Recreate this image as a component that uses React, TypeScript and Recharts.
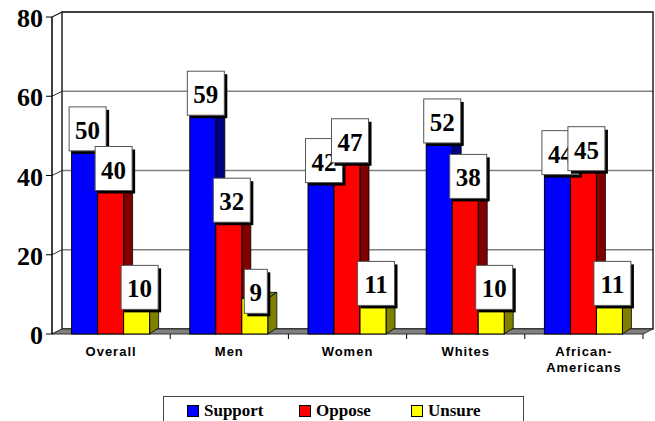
import { BarChart, Bar, XAxis, YAxis, CartesianGrid, ReferenceArea, LabelList } from "recharts";

const categories = ["Overall", "Men", "Women", "Whites", "African-Americans"];
const support = [50, 59, 42, 52, 44];
const oppose = [40, 32, 47, 38, 45];
const unsure = [10, 9, 11, 10, 11];
const yTicks = [0, 20, 40, 60, 80];
const seriesNames = ["Support", "Oppose", "Unsure"];

const data = categories.map((name, i) => ({
  name,
  support: support[i],
  oppose: oppose[i],
  unsure: unsure[i],
}));

const SERIF = "'Liberation Serif', 'Times New Roman', serif";
const SANS = "'Liberation Sans', Arial, sans-serif";
const DX = 10;
const DY = 5;

const colors = ["#0000ff", "#ff0000", "#ffff00"];
const sides = ["#000080", "#800000", "#808000"];

const bar3d = (side: string) => (props: any) => {
  const { x, y, width, height, fill } = props;
  if (height == null || width == null) return null;
  const bx = 9;
  const by = 6;
  return (
    <g>
      <polygon
        points={`${x + width},${y} ${x + width + bx},${y - by} ${x + width + bx},${y + height - by} ${x + width},${y + height}`}
        fill={side}
        stroke="#000"
        strokeWidth={0.8}
      />
      <polygon
        points={`${x},${y} ${x + bx},${y - by} ${x + width + bx},${y - by} ${x + width},${y}`}
        fill={side}
        stroke="#000"
        strokeWidth={0.8}
      />
      <rect x={x} y={y} width={width} height={height} fill={fill} stroke="#000" strokeWidth={1} />
    </g>
  );
};

const valueBox = (props: any) => {
  const vb = props.viewBox ?? props;
  const { x, y, width } = vb;
  const text = String(props.value);
  const n = text.length;
  const w = 14 * n + 9;
  const cx = x + width / 2 + 1 + (n - 1) * 2;
  const top = y - 29;
  const h = 44;
  return (
    <g>
      <rect x={cx - w / 2 + 3} y={top + 3} width={w} height={h} fill="#000" />
      <rect x={cx - w / 2} y={top} width={w} height={h} fill="#fff" stroke="#555" strokeWidth={1} />
      <text x={cx} y={y + 3} textAnchor="middle" fontFamily={SERIF} fontWeight="bold" fontSize={25} fill="#000">
        {text}
      </text>
    </g>
  );
};

const walls = (props: any) => {
  const { x, y, width, height } = props;
  const b = y + height;
  return (
    <g>
      <rect x={x + DX} y={y - DY} width={width} height={height} fill="none" stroke="#222" strokeWidth={1.5} />
      <line x1={x} y1={y} x2={x + DX} y2={y - DY} stroke="#222" strokeWidth={1} />
      <polygon
        points={`${x},${b} ${x + DX},${b - DY} ${x + width + DX},${b - DY} ${x + width},${b}`}
        fill="#808080"
        stroke="#333"
        strokeWidth={1}
      />
    </g>
  );
};

const gridLine = (props: any) => {
  const { x1, y1, x2 } = props;
  return (
    <g key={`g-${y1}`}>
      <line x1={x1 + DX} y1={y1 - DY} x2={x2 + DX} y2={y1 - DY} stroke="#808080" strokeWidth={1.5} />
      <line x1={x1} y1={y1} x2={x1 + DX} y2={y1 - DY} stroke="#333" strokeWidth={1} />
    </g>
  );
};

const YTick = (props: any) => {
  const { x, y, payload } = props;
  return (
    <text x={x + 1} y={y + 10} textAnchor="end" fontFamily={SERIF} fontWeight="bold" fontSize={26} fill="#000">
      {payload.value}
    </text>
  );
};

const XTick = (props: any) => {
  const { x, y, payload } = props;
  const label = String(payload.value);
  const parts = label.includes("-") ? [label.slice(0, label.indexOf("-") + 1), label.slice(label.indexOf("-") + 1)] : [label];
  const half = payload.offset ?? 0;
  return (
    <g>
      <line x1={x + half} y1={y} x2={x + half} y2={y + 5} stroke="#000" strokeWidth={1} />
      {parts.map((p, i) => (
        <text
          key={i}
          x={x}
          y={y + 22 + i * 16}
          textAnchor="middle"
          fontFamily={SANS}
          fontWeight="bold"
          fontSize={13}
          letterSpacing={1}
          fill="#000"
        >
          {p}
        </text>
      ))}
    </g>
  );
};

export default function App() {
  return (
    <div style={{ position: "absolute", left: 0, top: 0, width: 655, height: 421, background: "#fff" }}>
      <BarChart
        width={655}
        height={421}
        data={data}
        margin={{ top: 17, right: 12, bottom: 0, left: 0 }}
        barCategoryGap="16.6%"
        barGap={0}
      >
        <CartesianGrid vertical={false} horizontal={gridLine} />
        <ReferenceArea y1={0} y2={80} shape={walls} ifOverflow="visible" />
        <XAxis
          dataKey="name"
          height={87}
          axisLine={false}
          tickLine={false}
          tickSize={0}
          tickMargin={0}
          interval={0}
          tick={<XTick />}
        />
        <YAxis
          width={52}
          domain={[0, 80]}
          ticks={yTicks}
          tickSize={6}
          tickMargin={4}
          axisLine={{ stroke: "#000", strokeWidth: 1.5 }}
          tickLine={{ stroke: "#000" }}
          tick={<YTick />}
        />
        <Bar dataKey="support" fill={colors[0]} shape={bar3d(sides[0])} isAnimationActive={false}>
          <LabelList dataKey="support" content={valueBox} />
        </Bar>
        <Bar dataKey="oppose" fill={colors[1]} shape={bar3d(sides[1])} isAnimationActive={false}>
          <LabelList dataKey="oppose" content={valueBox} />
        </Bar>
        <Bar dataKey="unsure" fill={colors[2]} shape={bar3d(sides[2])} isAnimationActive={false}>
          <LabelList dataKey="unsure" content={valueBox} />
        </Bar>
      </BarChart>
      <div
        style={{
          position: "absolute",
          left: 163,
          top: 396,
          width: 361,
          height: 34,
          border: "1.5px solid #444",
          background: "#fff",
          display: "flex",
          paddingLeft: 23,
          boxSizing: "border-box",
        }}
      >
        {seriesNames.map((s, i) => (
          <div key={s} style={{ width: 122, display: "flex", alignItems: "flex-start", paddingTop: 5 }}>
            <span
              style={{
                display: "inline-block",
                width: 10,
                height: 10,
                background: colors[i],
                border: "1px solid #000",
                marginTop: 3,
                marginRight: 5,
              }}
            />
            <span style={{ fontFamily: SERIF, fontWeight: "bold", fontSize: 17, lineHeight: "17px" }}>{s}</span>
          </div>
        ))}
      </div>
    </div>
  );
}
